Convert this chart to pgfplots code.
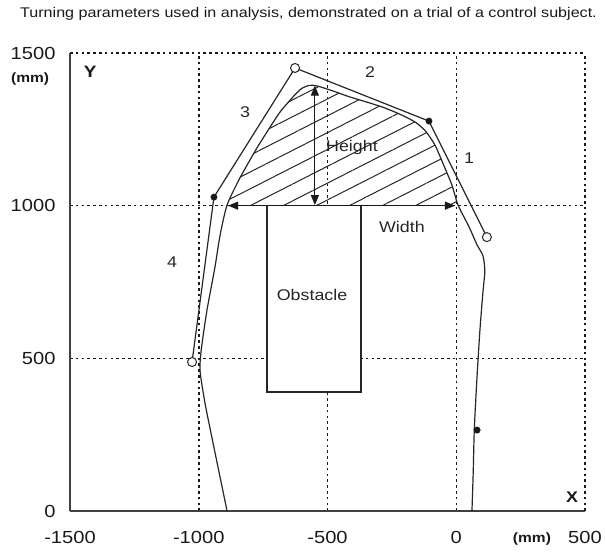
\documentclass[border=0pt]{standalone}
\usepackage{fontspec}
\setmainfont{Liberation Sans}[FakeStretch=1.15]
\usepackage{pgfplots}
\pgfplotsset{compat=1.18}
\usetikzlibrary{patterns.meta,arrows.meta}

\begin{document}
\begin{tikzpicture}
\useasboundingbox (0,0) rectangle (605pt,552pt);
\node[font=\fontsize{14}{16}\selectfont, text=black!90] at (308.5pt,538pt) {Turning parameters used in analysis, demonstrated on a trial of a control subject.};
\begin{axis}[
  at={(70pt,41pt)}, anchor=south west,
  scale only axis, width=515pt, height=458pt,
  xmin=-1500, xmax=500, ymin=0, ymax=1500,
  axis x line=bottom, axis y line=left,
  axis line style={-, line width=1.5pt, black!75},
  xtick={-1500,-1000,-500,0,500}, ytick={0,500,1000,1500},
  major tick length=0pt,
  grid=major,
  major grid style={line width=1.5pt, black!90, dash pattern=on 2.6pt off 3.2pt},
  tick label style={font=\fontsize{17.5}{19}\selectfont, text=black!90},
  /pgf/number format/assume math mode=true,
  /pgf/number format/set thousands separator={},
  xticklabel style={yshift=-17pt},
  yticklabel style={xshift=-11pt},
  clip=false,
]
% hatched turning area
\addplot[draw=none, pattern={Lines[angle=27,distance=15pt,line width=1pt]}, pattern color=black!85]
  coordinates {(-890,1000) (-840,1091) (-774,1189) (-730,1248) (-684,1307) (-630,1360) (-600,1384) (-570,1394) (-540,1392) (-480,1376) (-413,1356) (-350,1340) (-284,1322) (-220,1300) (-160,1274) (-120,1245) (-83,1199) (-50,1135) (-17,1068) (5,1000)} -- cycle;
% obstacle
\addplot[line width=1.2pt, black!85, fill=white]
  coordinates {(-735,390) (-370,390) (-370,1000) (-735,1000)} -- cycle;
% trajectory
\addplot[smooth, tension=0.4, line width=1.2pt, black!85]
  coordinates {(61,0) (66,130) (70,265) (80,430) (92,593) (104,720) (111,785) (104,835) (80,873) (50,930) (7,1002) (-17,1068) (-50,1135) (-83,1199) (-120,1245) (-160,1274) (-220,1300) (-284,1322) (-350,1340) (-413,1356) (-480,1376) (-540,1392) (-570,1394) (-600,1384) (-630,1360) (-684,1307) (-730,1248) (-774,1189) (-840,1091) (-890,1002) (-917,904) (-937,799) (-968,658) (-990,530) (-995,460) (-975,350) (-939,200) (-890,0)};
% segments
\addplot[line width=1.2pt, black!85]
  coordinates {(119,897) (-106,1277) (-626,1451) (-941,1028) (-1026,488)};
\addplot[only marks, mark=*, mark options={fill=white, draw=black!85, line width=1pt}, mark size=4.5pt]
  coordinates {(119,897) (-626,1451) (-1026,488)};
\addplot[only marks, mark=*, black!90, mark size=3.2pt]
  coordinates {(-106,1277) (-941,1028) (81,265)};
% arrows
\addplot[line width=1.2pt, black!90, {Triangle[length=10pt,width=8pt]}-{Triangle[length=10pt,width=8pt]}]
  coordinates {(-549,1002) (-549,1393)};
\addplot[line width=1.2pt, black!90, {Triangle[length=10pt,width=8pt]}-{Triangle[length=10pt,width=8pt]}]
  coordinates {(-886,1000) (-5,1000)};
% labels
\begin{scope}[every node/.style={font=\fontsize{15.5}{17}\selectfont, text=black!85}]
\node at (axis cs:50,1156) {1};
\node at (axis cs:-335,1438) {2};
\node at (axis cs:-820,1307) {3};
\node at (axis cs:-1104,816) {4};
\node at (axis cs:-405,1192) {Height};
\node at (axis cs:-211,930) {Width};
\node at (axis cs:-560,707) {Obstacle};
\end{scope}
\node[font=\bfseries\fontsize{13.5}{15}\selectfont, text=black!90] at (axis cs:-1655,1415) {(mm)};
\node[font=\bfseries\fontsize{16.5}{18}\selectfont, text=black!90] at (axis cs:-1422,1438) {Y};
\node[font=\bfseries\fontsize{15.5}{17}\selectfont, text=black!90] at (axis cs:450,46) {X};
\node[font=\bfseries\fontsize{13.5}{15}\selectfont, text=black!90] at (axis cs:294,-92) {(mm)};
\end{axis}
\end{tikzpicture}
\end{document}
